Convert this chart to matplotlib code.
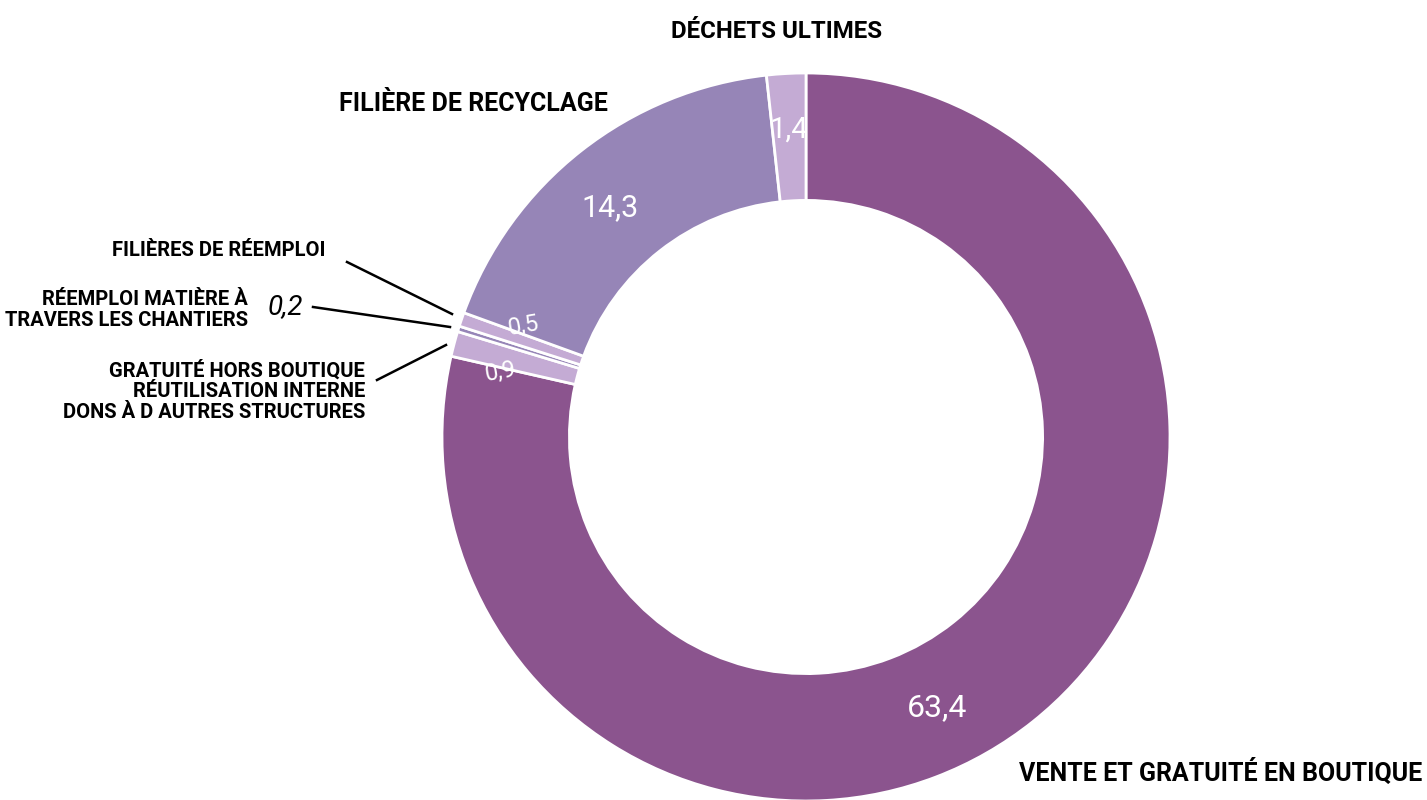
import matplotlib.pyplot as plt

# données
categories = ['Vente et gratuité en boutique', 'Gratuité hors boutique', 'Réemploi matière',
              'Filières de réemploi', 'Filière de recyclage', 'Déchets ultimes']
values = [63.4, 0.9, 0.2, 0.5, 14.3, 1.4]
value_labels = ['63,4', '0,9', '', '0,5', '14,3', '1,4']
colors = ['#8B548E', '#C4ABD4', '#9685B7', '#C4ABD4', '#9685B7', '#C4ABD4']

W, H = 1427, 800
fig = plt.figure(figsize=(W / 100, H / 100), dpi=100)
ax = fig.add_axes([0, 0, 1, 1])

cx, cy, r = 806, H - 437, 364
ax.pie(values, colors=colors, startangle=90, counterclock=False,
       center=(cx, cy), radius=r, frame=True,
       wedgeprops=dict(width=r * 0.35, edgecolor='white', linewidth=2))
ax.set_xlim(0, W)
ax.set_ylim(0, H)
ax.set_aspect('equal')
ax.axis('off')

LBL = dict(family=['Roboto', 'DejaVu Sans'], fontweight='bold', color='black')
VAL = dict(family=['Roboto', 'DejaVu Sans'], color='white')

def y(p):
    return H - p

# valeurs dans l'anneau
ax.text(937, y(708), value_labels[0], fontsize=23, ha='center', va='center', **VAL)
ax.text(610, y(208), value_labels[4], fontsize=22, ha='center', va='center', **VAL)
ax.text(789, y(130), value_labels[5], fontsize=21, ha='center', va='center', **VAL)
ax.text(523, y(326), value_labels[3], fontsize=17, ha='center', va='center', rotation=10, **VAL)
ax.text(500, y(372), value_labels[1], fontsize=17, ha='center', va='center', rotation=10, **VAL)

# étiquettes de catégories
ax.text(777, y(31), 'DÉCHETS ULTIMES', fontsize=17.3, ha='center', va='center', **LBL)
ax.text(473, y(104), 'FILIÈRE DE RECYCLAGE', fontsize=18, ha='center', va='center', **LBL)
ax.text(1422, y(772), 'VENTE ET GRATUITÉ EN BOUTIQUE', fontsize=18, ha='right', va='center', **LBL)
ax.text(326, y(250), 'FILIÈRES DE RÉEMPLOI', fontsize=14.5, ha='right', va='center', **LBL)
ax.text(248, y(310), 'RÉEMPLOI MATIÈRE À\nTRAVERS LES CHANTIERS', fontsize=14.5, ha='right',
        va='center', linespacing=1.1, multialignment='right', **LBL)
ax.text(365, y(391), 'GRATUITÉ HORS BOUTIQUE\nRÉUTILISATION INTERNE\nDONS À D AUTRES STRUCTURES',
        fontsize=14.5, ha='right', va='center', linespacing=1.1, multialignment='right', **LBL)
ax.text(285, y(307), '0,2', fontsize=20, ha='center', va='center', style='italic',
        family=['Roboto', 'DejaVu Sans'], color='black')

# traits de rappel
ax.plot([347, 452], [y(262), y(314)], color='black', lw=1.8)
ax.plot([313, 450], [y(307), y(327)], color='black', lw=1.8)
ax.plot([377, 446], [y(380), y(345)], color='black', lw=1.8)

fig.savefig('out.png', dpi=100, facecolor='white')
